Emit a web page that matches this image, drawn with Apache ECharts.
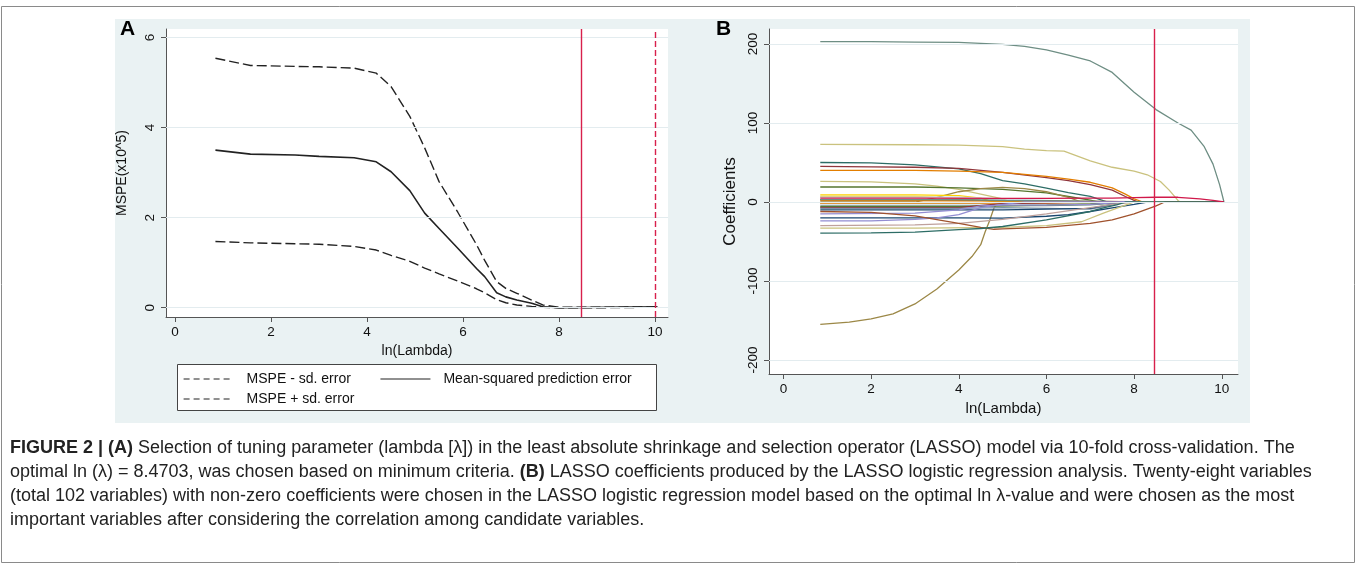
<!DOCTYPE html>
<html><head><meta charset="utf-8">
<script src="https://cdn.jsdelivr.net/npm/echarts@6/dist/echarts.min.js"></script>
<style>html,body{margin:0;padding:0;background:#fff}#c{width:1357px;height:565px}</style>
</head><body><div id="c"></div><script>
// ---------- Panel A data ----------
const lambdaA   = [0.84, 1.57, 2.5, 3.0, 3.73, 4.19, 4.5, 4.89, 5.2, 5.5, 5.89, 6.28, 6.45, 6.7, 6.89, 7.12, 7.43, 7.66, 8.0, 9.0, 10.05];
const mspeMean  = [3.50, 3.41, 3.39, 3.36, 3.33, 3.24, 3.02, 2.60, 2.10, 1.76, 1.32, 0.87, 0.69, 0.33, 0.24, 0.17, 0.10, 0.02, 0.00, 0.01, 0.015];
const mspeUpper = [5.54, 5.38, 5.36, 5.35, 5.32, 5.21, 4.91, 4.25, 3.55, 2.80, 2.12, 1.40, 1.05, 0.58, 0.43, 0.32, 0.17, 0.06, 0.01, 0.01, 0.02];
const mspeLower = [1.47, 1.44, 1.42, 1.41, 1.36, 1.28, 1.16, 1.03, 0.88, 0.75, 0.59, 0.42, 0.33, 0.18, 0.11, 0.06, 0.03, 0.01, 0.00, 0.00, 0.01];
const xTicksA = [0, 2, 4, 6, 8, 10];
const yTicksA = [0, 2, 4, 6];
const lambdaOpt = 8.47;
const lambdaMaxLine = 10;
const legendNames = ['MSPE - sd. error', 'Mean-squared prediction error', 'MSPE + sd. error'];

// ---------- Panel B data (ln lambda, coefficient) ----------
const coef01 = [[0.84,203],[2,203],[3,202.5],[4,202],[5,199.5],[5.5,197],[6,192.5],[6.5,186],[7,178.5],[7.5,164],[8,139],[8.5,117],[9,100],[9.3,91],[9.6,70],[9.8,48],[9.95,22],[10.05,0]];
const coef02 = [[0.84,73],[3,72.5],[4,72],[5,70],[5.5,67],[6,65],[6.4,64.5],[7,52],[7.5,44],[8,39],[8.3,34.5],[8.6,26],[8.8,15],[9,2],[9.05,0],[10.05,0]];
const coef03 = [[0.84,-155],[1.5,-152],[2,-148],[2.5,-141.5],[3,-129],[3.5,-110],[4,-86],[4.3,-69],[4.5,-54],[4.6,-38],[4.7,-24],[4.8,-8],[4.88,0],[10.05,0]];
const coef04 = [[0.84,50],[2,49.5],[3,47],[4,42],[4.5,36],[5,27],[5.5,23],[6,17.5],[6.5,12],[7,7],[7.4,0],[10.05,0]];
const coef05 = [[0.84,45],[2,44.5],[3,44],[4,42.5],[5,37.5],[6,31],[6.5,27],[7,22],[7.5,15],[7.8,7],[8.0,2],[8.1,0],[10.05,0]];
const coef06 = [[0.84,40],[3,40],[4,39],[5,37.5],[6,32.5],[6.5,29],[7,25],[7.5,18],[7.8,10],[8.0,4],[8.2,0],[10.05,0]];
const coef07 = [[0.84,26],[2,25.5],[3,23],[3.5,20],[4,16],[4.5,10],[5,4],[5.2,0],[10.05,0]];
const coef08 = [[0.84,19],[3,19],[4,18],[5,16],[6,11.5],[6.5,7],[7,2.5],[7.2,0],[10.05,0]];
const coef09 = [[0.84,0],[3.0,0],[3.5,6],[4,13],[4.5,17],[5,18.5],[5.5,17],[6,13],[6.5,6],[6.8,0],[10.05,0]];
const coef10 = [[0.84,9],[3,9],[4,8],[4.5,5],[4.8,0],[10.05,0]];
const coef11 = [[0.84,7],[3,7],[4,5],[4.5,2],[5,0],[10.05,0]];
const coef12 = [[0.84,6],[4,6],[5,4],[6,2],[7,0],[10.05,0]];
const coef13 = [[0.84,3],[4,2.5],[6,1.5],[7,0],[10.05,0]];
const coef14 = [[0.84,2],[4,1.5],[6,1],[8,0.5],[10.05,0]];
const coef15 = [[0.84,3],[4,3],[5,2],[7,1],[8,0],[10.05,0]];
const coef16 = [[0.84,-1],[5,-1],[7,-0.5],[8,0],[10.05,0]];
const coef17 = [[0.84,-2],[5,-2],[7,-1.5],[8,0],[10.05,0]];
const coef18 = [[0.84,-3],[5,-3],[6,-3],[7,-2],[8,0],[10.05,0]];
const coef19 = [[0.84,-5],[4,-5],[6,-4.5],[7,-3.5],[7.5,-1.5],[7.9,0],[10.05,0]];
const coef20 = [[0.84,-6],[4,-6],[5,-5],[6,-4],[7,-2.5],[8,0],[10.05,0]];
const coef21 = [[0.84,-7],[4,-7],[4.6,-4],[5,-2],[6,-1],[7,0],[10.05,0]];
const coef22 = [[0.84,-8],[4,-8],[5,-7],[6,-8],[7,-9],[7.3,-6],[7.8,0],[10.05,0]];
const coef23 = [[0.84,-10],[4,-10],[5,-10],[6,-9],[7,-8],[7.3,-5],[7.8,0],[10.05,0]];
const coef24 = [[0.84,-15],[3,-14],[4,-10],[4.5,-5],[5,-4],[6,-4],[7,-3],[7.8,0],[10.05,0]];
const coef25 = [[0.84,-20],[3,-20],[4,-20],[5,-20.5],[6,-18],[6.5,-16],[7,-12],[7.5,-7.5],[8,-3],[8.3,0],[10.05,0]];
const coef26 = [[0.84,-24],[2,-24],[3,-22],[3.5,-20],[4,-16],[4.5,-7],[5,-3],[5.5,0],[10.05,0]];
const coef27 = [[0.84,-30],[3,-29],[4,-27],[5,-22],[6,-15],[7,-7],[7.5,-3],[8,0],[10.05,0]];
const coef28 = [[0.84,-33],[3,-33],[5,-32],[6,-30],[6.8,-25],[7.3,-14],[7.8,-4],[8,0],[10.05,0]];
const coef29 = [[0.84,-12],[2,-13],[3,-17.5],[4,-27],[4.5,-32],[4.8,-34.5],[5,-34],[6,-32],[7,-27],[7.5,-22.5],[8,-15],[8.5,-5],[8.7,0],[10.05,0]];
const coef30 = [[0.84,-39.5],[2,-39],[3,-38],[4,-35],[4.5,-33.5],[5,-31],[6,-22.5],[7,-12],[7.3,-7.5],[7.6,-3.5],[7.8,0],[10.05,0]];
const coef31 = [[0.84,5],[3,5],[5,4.5],[6,4.5],[7,5],[7.5,5],[8,5.5],[8.5,6],[9,6],[9.5,4],[9.8,2],[10.05,0]];
const xTicksB = [0, 2, 4, 6, 8, 10];
const yTicksB = [-200, -100, 0, 100, 200];

// ---------- styles ----------
const coefList = [coef01,coef02,coef03,coef04,coef05,coef06,coef07,coef08,coef09,coef10,coef11,coef12,coef13,coef14,coef15,coef16,coef17,coef18,coef19,coef20,coef21,coef22,coef23,coef24,coef25,coef26,coef27,coef28,coef29,coef30,coef31];
const coefColors = ['#6E8E84','#CAC27E','#9C8847','#2D6D66','#90353B','#E37E00','#CAC27E','#55752F','#9C8847','#FFD200','#E8C840','#C9DCE3','#1A476F','#E37E00','#6E8E84','#90353B','#E37E00','#D9E6EB','#6E8E84','#55752F','#90353B','#7B92A8','#1A476F','#938DD2','#1A476F','#938DD2','#BFA19C','#CAC27E','#A0522D','#2D6D66','#D0184A'];

const FONT = 'Liberation Sans';
const BG = '#EAF2F3';
const GRIDC = '#E3ECEF';
const RED = '#D8204C';
const AXC = '#555';

const gridA = {left:166, top:29, width:502, height:288};
const gridB = {left:769, top:29, width:469, height:345};

function gridLineSeries(xi, yi, ticks) {
  return {type:'line', xAxisIndex:xi, yAxisIndex:yi, data:[], z:1, silent:true,
    markLine:{silent:true, symbol:'none', label:{show:false}, animation:false,
      lineStyle:{color:GRIDC, width:1, type:'solid'},
      data: ticks.map(v => ({yAxis:v}))}};
}
function vline(v, dashed) {
  return {silent:true, symbol:'none', label:{show:false}, animation:false,
    lineStyle:{color:RED, width:1.4, type: dashed ? [6,3] : 'solid'},
    data:[{xAxis:v}]};
}

const series = [];
series.push(gridLineSeries(0, 0, yTicksA));
series.push(gridLineSeries(1, 1, yTicksB));
series.push({name:legendNames[0], type:'line', xAxisIndex:0, yAxisIndex:0, z:3, symbol:'none',
  data: lambdaA.map((x,i)=>[x, mspeLower[i]]), lineStyle:{color:'#222', width:1.4, type:[10,4]}, itemStyle:{color:'#222'}});
series.push({name:legendNames[2], type:'line', xAxisIndex:0, yAxisIndex:0, z:3, symbol:'none',
  data: lambdaA.map((x,i)=>[x, mspeUpper[i]]), lineStyle:{color:'#222', width:1.4, type:[10,4]}, itemStyle:{color:'#222'}});
series.push({name:legendNames[1], type:'line', xAxisIndex:0, yAxisIndex:0, z:3, symbol:'none',
  data: lambdaA.map((x,i)=>[x, mspeMean[i]]), lineStyle:{color:'#222', width:1.6}, itemStyle:{color:'#222'}});
series.push({type:'line', xAxisIndex:0, yAxisIndex:0, data:[], z:4, markLine: vline(lambdaOpt, false)});
series.push({type:'line', xAxisIndex:0, yAxisIndex:0, data:[], z:4, markLine: vline(lambdaMaxLine, true)});
coefList.forEach((pts, i) => {
  series.push({type:'line', xAxisIndex:1, yAxisIndex:1, z:3, symbol:'none', data: pts,
    lineStyle:{color:coefColors[i], width:1.3}, itemStyle:{color:coefColors[i]}});
});
series.push({type:'line', xAxisIndex:1, yAxisIndex:1, data:[], z:5, markLine: vline(lambdaOpt, false)});

const tickLabel = {color:'#111', fontFamily:FONT, fontSize:13.5};
function xAxis(gi, min, max, ticks, name, gap, fs) {
  return {type:'value', gridIndex:gi, min, max, name, nameLocation:'middle', nameGap:gap,
    nameTextStyle:{fontFamily:FONT, fontSize:fs, color:'#111'},
    axisLine:{show:true, onZero:false, lineStyle:{color:AXC, width:1}},
    axisTick:{show:true, length:5, customValues:ticks, lineStyle:{color:AXC}},
    axisLabel:Object.assign({customValues:ticks, margin:8}, tickLabel),
    splitLine:{show:false}};
}
function yAxis(gi, min, max, ticks, name, gap, fs) {
  return {type:'value', gridIndex:gi, min, max, name, nameLocation:'middle', nameGap:gap, nameRotate:90,
    nameTextStyle:{fontFamily:FONT, fontSize:fs, color:'#111'},
    axisLine:{show:true, onZero:false, lineStyle:{color:AXC, width:1}},
    axisTick:{show:true, length:5, customValues:ticks, lineStyle:{color:AXC}},
    axisLabel:Object.assign({customValues:ticks, margin:9, rotate:90}, tickLabel),
    splitLine:{show:false}};
}

const cap1 = '{b|FIGURE 2 | (A)} Selection of tuning parameter (lambda [λ]) in the least absolute shrinkage and selection operator (LASSO) model via 10-fold cross-validation. The';
const cap2 = 'optimal ln (λ) = 8.4703, was chosen based on minimum criteria. {b|(B)} LASSO coefficients produced by the LASSO logistic regression analysis. Twenty-eight variables';
const cap3 = '(total 102 variables) with non-zero coefficients were chosen in the LASSO logistic regression model based on the optimal ln λ-value and were chosen as the most';
const cap4 = 'important variables after considering the correlation among candidate variables.';
const capStyle = (t) => ({text:t, fontFamily:FONT, fontSize:18, fill:'#222', verticalAlign:'middle',
  rich:{b:{fontFamily:FONT, fontSize:18, fontWeight:'bold', fill:'#222'}}});

const legendCommon = {orient:'horizontal', itemWidth:50, itemHeight:14, itemGap:29, padding:0,
  selectedMode:false, itemStyle:{opacity:0},
  textStyle:{fontFamily:FONT, fontSize:14, color:'#111', padding:[0,0,0,8]}};

const option = {
  animation:false,
  backgroundColor:'#fff',
  grid:[
    Object.assign({show:true, backgroundColor:'#fff', borderWidth:0, containLabel:false}, gridA),
    Object.assign({show:true, backgroundColor:'#fff', borderWidth:0, containLabel:false}, gridB)
  ],
  xAxis:[ xAxis(0, -0.19, 10.27, xTicksA, 'ln(Lambda)', 25, 14),
          xAxis(1, -0.33, 10.37, xTicksB, 'ln(Lambda)', 15, 15) ],
  yAxis:[ yAxis(0, -0.207, 6.19, yTicksA, 'MSPE(x10^5)', 37, 14),
          yAxis(1, -217.7, 219, yTicksB, 'Coefficients', 30, 17) ],
  legend:[
    Object.assign({data:[{name:legendNames[0], lineStyle:{type:[6,4], width:1.2}}, {name:legendNames[1], lineStyle:{width:1.2}}],
     left:183, top:372}, legendCommon),
    Object.assign({data:[{name:legendNames[2], lineStyle:{type:[6,4], width:1.2}}],
     left:183, top:392}, legendCommon)
  ],
  graphic:[
    {type:'rect', z:-10, silent:true, shape:{x:1.5, y:6.5, width:1353, height:556}, style:{fill:'#fff', stroke:'#8a8a8a', lineWidth:1}},
    {type:'rect', z:-9, silent:true, shape:{x:115, y:19, width:1135, height:404}, style:{fill:BG}},
    {type:'rect', z:-8, silent:true, shape:{x:177.5, y:364.5, width:479, height:46}, style:{fill:'#fff', stroke:'#444', lineWidth:1}},
    {type:'text', silent:true, x:120, y:29, style:{text:'A', fontFamily:FONT, fontSize:21, fontWeight:'bold', fill:'#000', verticalAlign:'middle'}},
    {type:'text', silent:true, x:716, y:29, style:{text:'B', fontFamily:FONT, fontSize:21, fontWeight:'bold', fill:'#000', verticalAlign:'middle'}},
    {type:'text', silent:true, x:10, y:448, style:capStyle(cap1)},
    {type:'text', silent:true, x:10, y:472, style:capStyle(cap2)},
    {type:'text', silent:true, x:10, y:496, style:capStyle(cap3)},
    {type:'text', silent:true, x:10, y:520, style:capStyle(cap4)}
  ],
  series
};
const chart = echarts.init(document.getElementById('c'), null, {renderer:'canvas'});
chart.setOption(option);
</script></body></html>
